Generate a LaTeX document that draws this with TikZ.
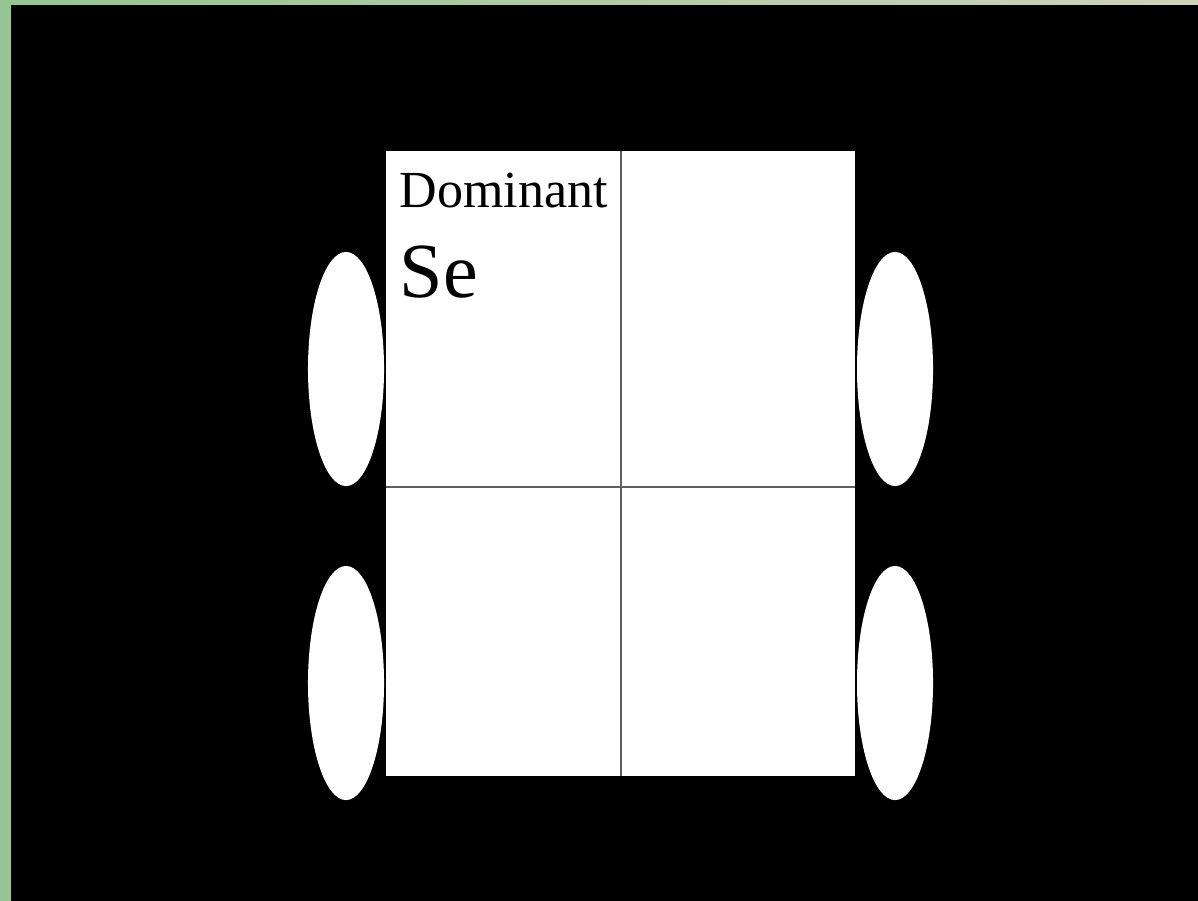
\documentclass[tikz,border=0pt]{standalone}
\usepackage{fontspec}
\setmainfont{Liberation Serif}
\usetikzlibrary{shapes.geometric}
\definecolor{gleft}{RGB}{150,196,146}
\definecolor{gright}{RGB}{206,210,186}
\definecolor{divline}{RGB}{95,95,95}
\begin{document}
\begin{tikzpicture}[x=0.01cm,y=-0.01cm,
  pad/.style={ellipse,fill=white,draw=none,minimum width=0.76cm,minimum height=2.34cm,inner sep=0pt},
  cell/.style={rectangle,fill=white,draw=none,inner sep=0pt},
  label/.style={anchor=base west,inner sep=0pt,text=black}]
\useasboundingbox (0,0) rectangle (1198,900);
\shade[left color=gleft,right color=gright] (0,0) rectangle (1198,900);
\fill[black] (11,5) rectangle (1200,905);
% board
\node[cell,minimum width=4.69cm,minimum height=6.25cm] (board) at (620.5,463.5) {};
\coordinate (vtop) at (621,151);
\coordinate (vbot) at (621,776);
\coordinate (hl) at (386,487);
\coordinate (hr) at (855,487);
\draw[divline,line width=0.5pt] (vtop) -- (vbot);
\draw[divline,line width=0.5pt] (hl) -- (hr);
% pads
\node[pad] (lu) at (346,369) {};
\node[pad] (ll) at (346,683) {};
\node[pad] (ru) at (895,369) {};
\node[pad] (rl) at (895,683) {};
% labels
\node[label,font=\fontsize{14.8pt}{16pt}\selectfont] (dom) at (399,207) {Dominant};
\node[label,font=\fontsize{22.2pt}{24pt}\selectfont] (se) at (399,297) {Se};
\end{tikzpicture}
\end{document}
